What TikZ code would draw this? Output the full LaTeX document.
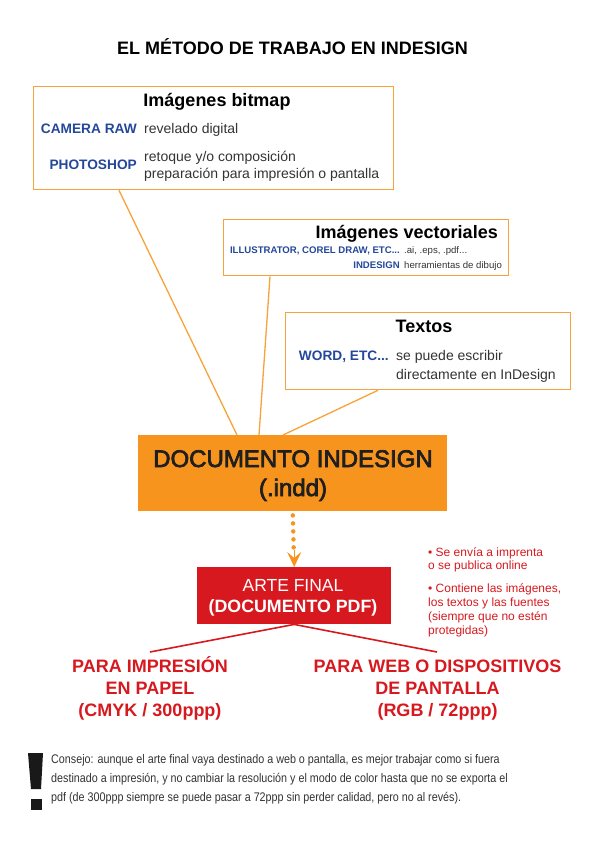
\documentclass[tikz,border=0pt]{standalone}
\usepackage{fontspec}
\setmainfont{Liberation Sans}
\newfontfamily\narrowfont[FakeStretch=0.86]{Liberation Sans}
\newfontfamily\mediumfont[FakeBold=3]{Liberation Sans}
\usetikzlibrary{arrows.meta,calc}
\definecolor{boxorange}{HTML}{F7A23A}
\definecolor{docorange}{HTML}{F7941D}
\definecolor{progblue}{HTML}{24479A}
\definecolor{finalred}{HTML}{D7191F}
\definecolor{notegray}{HTML}{333333}

\begin{document}
\begin{tikzpicture}[x=1pt,y=-1pt,
    toolbox/.style={draw=boxorange, line width=1.3pt, anchor=north west, inner sep=0pt},
    boxtitle/.style={font=\bfseries\fontsize{18}{20}\selectfont, anchor=base, inner sep=0pt},
    prog/.style={font=\bfseries\fontsize{13.7}{15}\selectfont, text=progblue, anchor=base east, inner sep=0pt},
    usetext/.style={font=\fontsize{14}{16}\selectfont, text=notegray, anchor=base west, inner sep=0pt},
    smallprog/.style={font=\bfseries\fontsize{9.6}{11}\selectfont, text=progblue, anchor=base east, inner sep=0pt},
    smalluse/.style={font=\fontsize{9.6}{11}\selectfont, text=notegray, anchor=base west, inner sep=0pt},
    link/.style={draw=boxorange, line width=1.3pt},
    split/.style={draw=finalred, line width=1.6pt},
    outlabel/.style={font=\bfseries\fontsize{18}{20}\selectfont, text=finalred, anchor=base, inner sep=0pt},
    redline/.style={font=\fontsize{12}{14}\selectfont, text=finalred, anchor=base west, inner sep=0pt},
    tipline/.style={font=\narrowfont\fontsize{12.5}{14}\selectfont, text=notegray, anchor=base west, inner sep=0pt}]
\useasboundingbox (0,0) rectangle (599,848);

\node[font=\bfseries\fontsize{18}{20}\selectfont, anchor=base, inner sep=0pt] (title) at (292.5,55) {EL MÉTODO DE TRABAJO EN INDESIGN};

% bitmap
\node[toolbox, minimum width=360pt, minimum height=103pt] (bitmap) at (33,86) {};
\node[boxtitle] (bitmaptitle) at (217,107) {Imágenes bitmap};
\node[prog] (cameraraw) at (137,134) {CAMERA RAW};
\node[usetext] (cameratext) at (144,134) {revelado digital};
\node[prog] (photoshop) at (137,169) {PHOTOSHOP};
\node[usetext] (photoa) at (144,161) {retoque y/o composición};
\node[usetext] (photob) at (144,178) {preparación para impresión o pantalla};

% vectoriales
\node[toolbox, minimum width=285pt, minimum height=56pt] (vector) at (223,219) {};
\node[boxtitle, anchor=base east] (vectortitle) at (498,238) {Imágenes vectoriales};
\node[smallprog] (illustrator) at (400,253) {ILLUSTRATOR, COREL DRAW, ETC...};
\node[smalluse] (illustext) at (404,253) {.ai, .eps, .pdf...};
\node[smallprog] (indesign) at (400,268) {INDESIGN};
\node[smalluse] (indtext) at (404,268) {herramientas de dibujo};

% textos
\node[toolbox, minimum width=285pt, minimum height=77pt] (texts) at (285,312) {};
\node[boxtitle] (textstitle) at (424,332) {Textos};
\node[prog] (word) at (389,360) {WORD, ETC...};
\node[usetext] (worda) at (396,360) {se puede escribir};
\node[usetext] (wordb) at (396,379) {directamente en InDesign};

% documento
\node[fill=docorange, anchor=north west, minimum width=309pt, minimum height=76pt, inner sep=0pt] (doc) at (138,435) {};
\node[font=\mediumfont\fontsize{24}{28}\selectfont, text=black!88, anchor=base, inner sep=0pt] (doca) at (293,467) {DOCUMENTO INDESIGN};
\node[font=\mediumfont\fontsize{24}{28}\selectfont, text=black!88, anchor=base, inner sep=0pt] (docb) at (293,496) {(.indd)};

\draw[link] ($(bitmap.south west)+(86,0)$) -- ($(doc.north west)+(99,0)$);
\draw[link] ($(vector.south west)+(47,0)$) -- ($(doc.north west)+(121,0)$);
\draw[link] ($(texts.south west)+(93,0)$) -- ($(doc.north west)+(145,0)$);

% arte final
\node[fill=finalred, anchor=north west, minimum width=194pt, minimum height=57pt, inner sep=0pt] (final) at (197,567) {};
\node[font=\fontsize{17.5}{20}\selectfont, text=white, anchor=base, inner sep=0pt] (finala) at (293,591) {ARTE FINAL};
\node[font=\bfseries\fontsize{17.8}{20}\selectfont, text=white, anchor=base, inner sep=0pt] (finalb) at (293,612) {(DOCUMENTO PDF)};

\draw[docorange, line width=4.5pt, line cap=round, dash pattern=on 0pt off 8pt, shorten <=4pt, shorten >=12pt] (doc.south) -- (final.north);
\draw[docorange, line width=1pt, -{Stealth[length=15pt, width=14pt, inset=6pt]}] ($(final.north)+(0,-17)$) -- (final.north);

\node[redline] (senda) at (428,556) {\textbullet{} Se envía a imprenta};
\node[redline] (sendb) at (428,569) {o se publica online};
\node[redline] (holda) at (428,592) {\textbullet{} Contiene las imágenes,};
\node[redline] (holdb) at (428,606) {los textos y las fuentes};
\node[redline] (holdc) at (428,620) {(siempre que no estén};
\node[redline] (holdd) at (428,634) {protegidas)};

% salidas
\coordinate (printend) at (150,652);
\coordinate (webend) at (437,652);
\draw[split] (final.south) -- (printend);
\draw[split] (final.south) -- (webend);
\node[outlabel] (printa) at (150,672) {PARA IMPRESIÓN};
\node[outlabel] (printb) at (150,694) {EN PAPEL};
\node[outlabel] (printc) at (150,716) {(CMYK / 300ppp)};
\node[outlabel] (weba) at (437.5,672) {PARA WEB O DISPOSITIVOS};
\node[outlabel] (webb) at (437.5,694) {DE PANTALLA};
\node[outlabel] (webc) at (437.5,716) {(RGB / 72ppp)};

% consejo
\fill[black!90] (28,753) -- (43,753) -- (41,789) -- (31,789) -- cycle;
\fill[black!90] (31,799) rectangle (42,810);
\node[tipline] (tipa) at (51,763) {Consejo: aunque el arte final vaya destinado a web o pantalla, es mejor trabajar como si fuera};
\node[tipline] (tipb) at (51,782) {destinado a impresión, y no cambiar la resolución y el modo de color hasta que no se exporta el};
\node[tipline] (tipc) at (51,801) {pdf (de 300ppp siempre se puede pasar a 72ppp sin perder calidad, pero no al revés).};
\end{tikzpicture}
\end{document}
